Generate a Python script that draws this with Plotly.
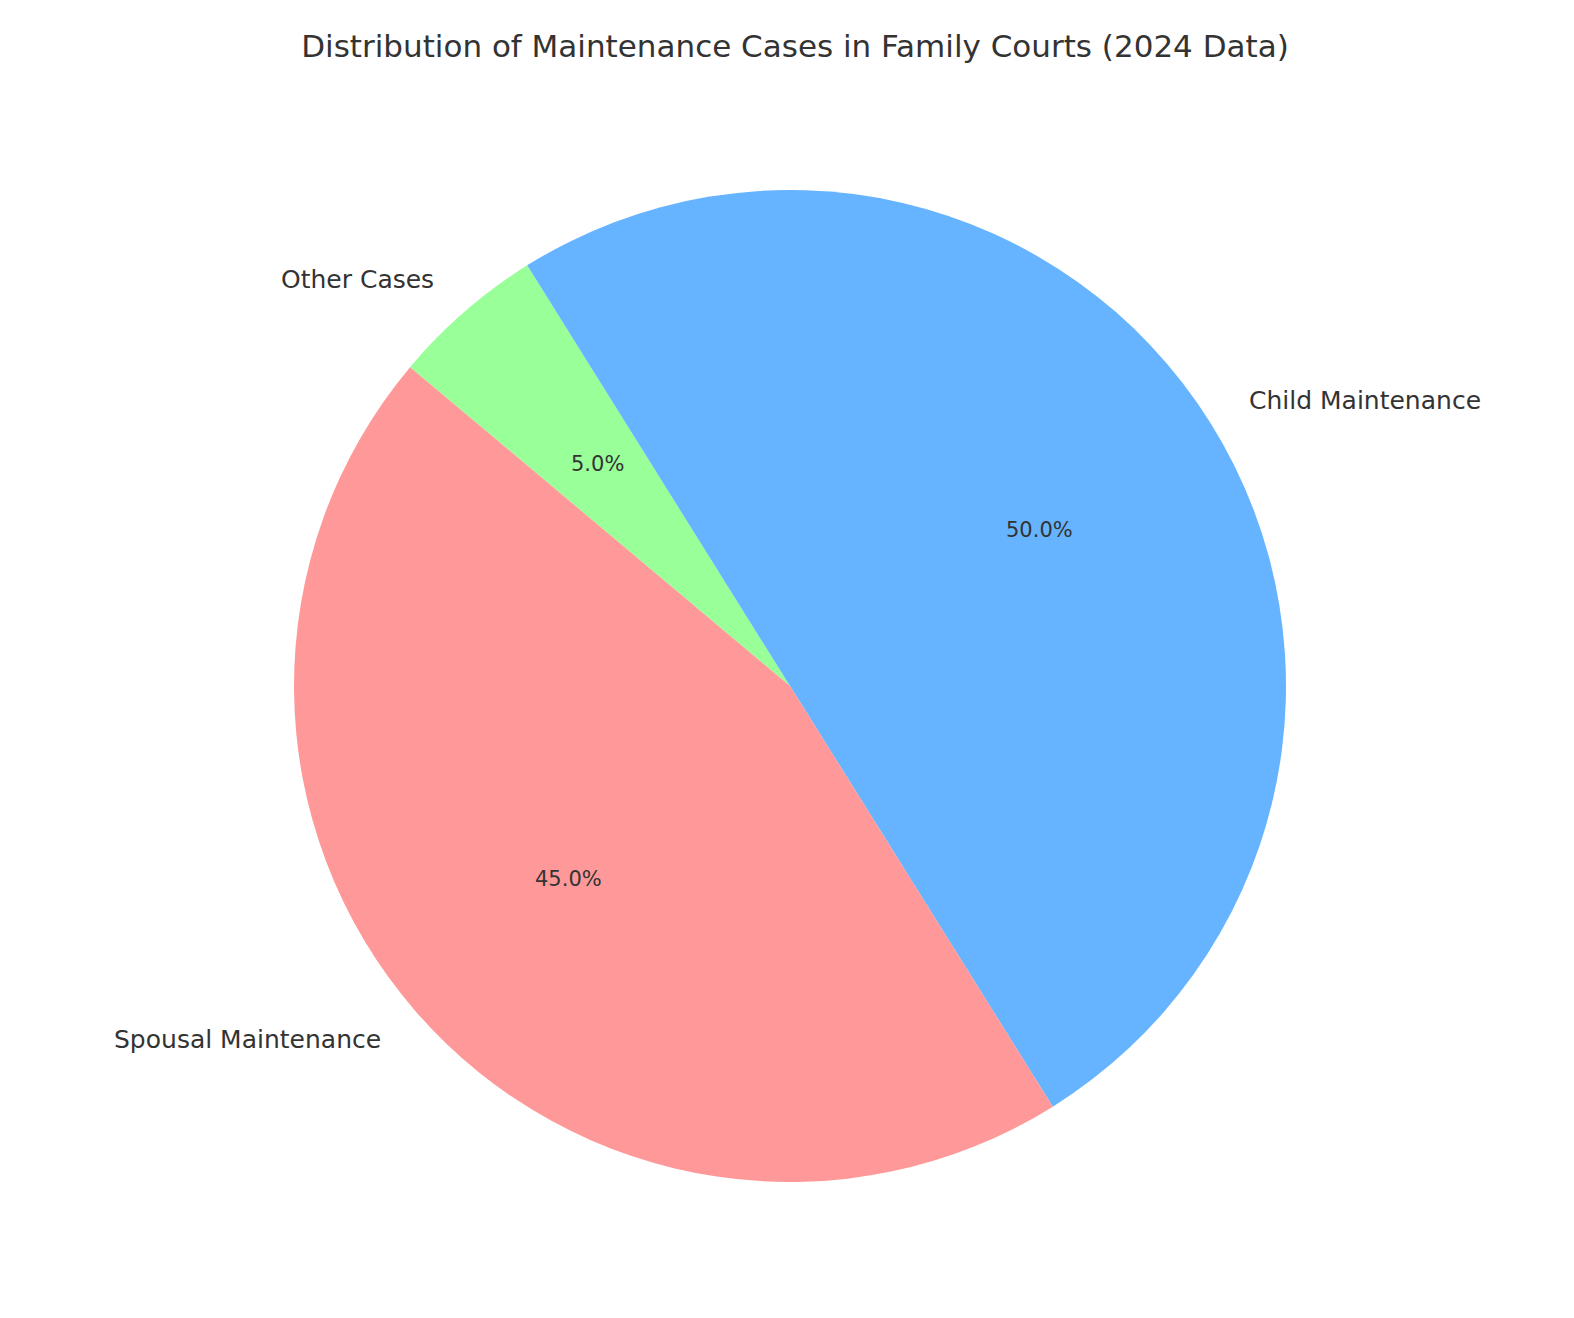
import math
import plotly.graph_objects as go

labels = ["Spousal Maintenance", "Child Maintenance", "Other Cases"]
values = [45, 50, 5]
colors = ["#ff9999", "#66b3ff", "#99ff99"]
start_angle = 140

W, H = 1574, 1318
cx, cy, R = 782, 640, 490  # cy from bottom
Rd = 496
dom_x = [(cx - Rd) / W, (cx + Rd) / W]
dom_y = [(cy - Rd) / H, (cy + Rd) / H]

# plotly draws clockwise; reverse order to reproduce counterclockwise layout
fig = go.Figure(go.Pie(
    labels=labels[::-1], values=values[::-1], sort=False, direction="clockwise",
    rotation=90 - start_angle, marker=dict(colors=colors[::-1]),
    textinfo="none", hoverinfo="label+percent", showlegend=False,
    domain=dict(x=dom_x, y=dom_y),
))

total = sum(values)
ang = start_angle
anns = []
for lab, v in zip(labels, values):
    span = 360 * v / total
    mid = math.radians(ang + span / 2)
    ang += span
    lx, ly = math.cos(mid), math.sin(mid)
    anns.append(dict(x=(cx + 1.1 * R * lx) / W, y=(cy + 1.1 * R * ly) / H,
                     xref="paper", yref="paper", text=lab, showarrow=False,
                     xanchor="left" if lx > 0 else "right", yanchor="middle",
                     font=dict(size=25, color="#333333")))
    anns.append(dict(x=(cx + 0.6 * R * lx) / W, y=(cy + 0.6 * R * ly) / H,
                     xref="paper", yref="paper", text=f"{100*v/total:.1f}%",
                     showarrow=False, xanchor="center", yanchor="middle",
                     font=dict(size=21, color="#333333")))

fig.update_layout(
    width=W, height=H, margin=dict(l=0, r=0, t=0, b=0),
    paper_bgcolor="white", font=dict(family="DejaVu Sans", color="#333333"),
    title=dict(text="Distribution of Maintenance Cases in Family Courts (2024 Data)",
               x=0.5, xanchor="center", y=1 - 38 / H, yanchor="middle",
               font=dict(size=31, color="#333333")),
    annotations=anns,
)
fig.write_html("out.html")
